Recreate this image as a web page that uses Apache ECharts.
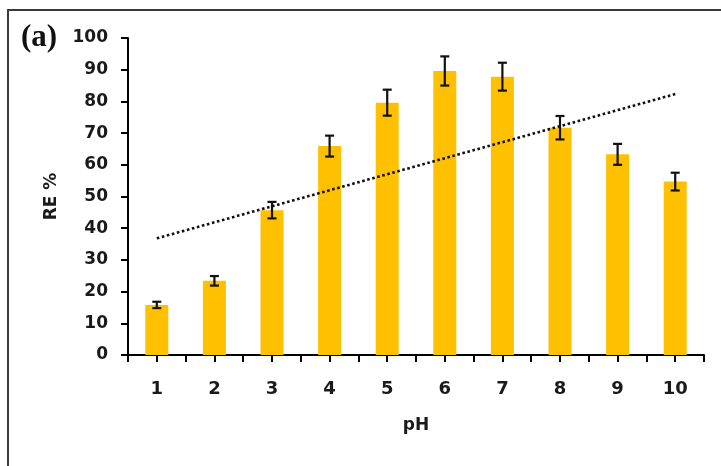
<!DOCTYPE html>
<html>
<head>
<meta charset="utf-8">
<script src="https://cdn.jsdelivr.net/npm/echarts@6/dist/echarts.min.js"></script>
<style>
html,body{margin:0;padding:0;background:#fff;}
#chart{width:721px;height:466px;}
</style>
</head>
<body>
<div id="chart"></div>
<script>
// Data
var phValues = [1, 2, 3, 4, 5, 6, 7, 8, 9, 10];
var reValues = [15.8, 23.4, 45.7, 65.9, 79.6, 89.6, 87.8, 71.7, 63.3, 54.7];
var reErrors = [1.0, 1.5, 2.6, 3.3, 4.1, 4.6, 4.4, 3.7, 3.3, 2.8];
var trendX = [1, 10];
var trendY = [36.8, 82.3];
var yTicks = [0, 10, 20, 30, 40, 50, 60, 70, 80, 90, 100];
var panelLabel = '(a)';
var xName = 'pH';
var yName = 'RE %';

var barData = phValues.map(function (x, i) { return [x, reValues[i]]; });
var errData = phValues.map(function (x, i) { return [x, reValues[i] - reErrors[i], reValues[i] + reErrors[i]]; });
var trendData = trendX.map(function (x, i) { return [x, trendY[i]]; });

var chart = echarts.init(document.getElementById('chart'), null, {renderer: 'canvas'});
var labelFont = 'DejaVu Sans';

chart.setOption({
  animation: false,
  backgroundColor: '#ffffff',
  grid: {left: 128, right: 17, top: 38, bottom: 111, containLabel: false},
  graphic: [
    {type: 'rect', shape: {x: 8, y: 10, width: 730, height: 470}, style: {fill: 'none', stroke: '#3a3a3a', lineWidth: 2}, z: 10},
    {type: 'text', x: 21, y: 38, style: {text: panelLabel, font: 'bold 31px "Liberation Serif"', fill: '#111', verticalAlign: 'middle', align: 'left'}, z: 10}
  ],
  xAxis: {
    type: 'value', min: 0.5, max: 10.5, interval: 0.5,
    name: xName, nameLocation: 'middle', nameGap: 62,
    nameTextStyle: {fontFamily: labelFont, fontWeight: 'bold', fontSize: 17, color: '#1a1a1a'},
    axisLine: {show: true, onZero: false, lineStyle: {color: '#000', width: 2}},
    axisTick: {show: true, inside: false, length: 7, lineStyle: {color: '#000', width: 2}},
    axisLabel: {
      show: true, margin: 25, color: '#1a1a1a', fontFamily: labelFont, fontWeight: 'bold', fontSize: 18,
      showMinLabel: true, showMaxLabel: true,
      formatter: function (v) { return phValues.indexOf(v) >= 0 ? String(v) : ''; }
    },
    splitLine: {show: false}
  },
  yAxis: {
    type: 'value', min: yTicks[0], max: yTicks[yTicks.length - 1], interval: yTicks[1] - yTicks[0],
    name: yName, nameLocation: 'middle', nameGap: 68, nameRotate: 90,
    nameTextStyle: {fontFamily: labelFont, fontWeight: 'bold', fontSize: 17, color: '#1a1a1a'},
    axisLine: {show: true, lineStyle: {color: '#000', width: 2}},
    axisTick: {show: true, inside: false, length: 7, lineStyle: {color: '#000', width: 2}},
    axisLabel: {show: true, margin: 20, color: '#1a1a1a', fontFamily: labelFont, fontWeight: 'bold', fontSize: 17},
    splitLine: {show: false}
  },
  series: [
    {
      type: 'bar', data: barData, barWidth: 23,
      itemStyle: {color: '#FFC000'}, z: 2
    },
    {
      type: 'custom', data: errData, z: 4,
      renderItem: function (params, api) {
        var x = api.value(0);
        var lo = api.coord([x, api.value(1)]);
        var hi = api.coord([x, api.value(2)]);
        var cap = 4.5;
        var st = {stroke: '#111', lineWidth: 2.2};
        return {
          type: 'group',
          children: [
            {type: 'line', shape: {x1: lo[0], y1: lo[1], x2: hi[0], y2: hi[1]}, style: st},
            {type: 'line', shape: {x1: lo[0] - cap, y1: lo[1], x2: lo[0] + cap, y2: lo[1]}, style: st},
            {type: 'line', shape: {x1: hi[0] - cap, y1: hi[1], x2: hi[0] + cap, y2: hi[1]}, style: st}
          ]
        };
      }
    },
    {
      type: 'line', data: trendData, symbol: 'none', z: 5,
      lineStyle: {color: '#111', width: 2.6, type: [2.6, 2.6]}
    }
  ]
});
</script>
</body>
</html>
